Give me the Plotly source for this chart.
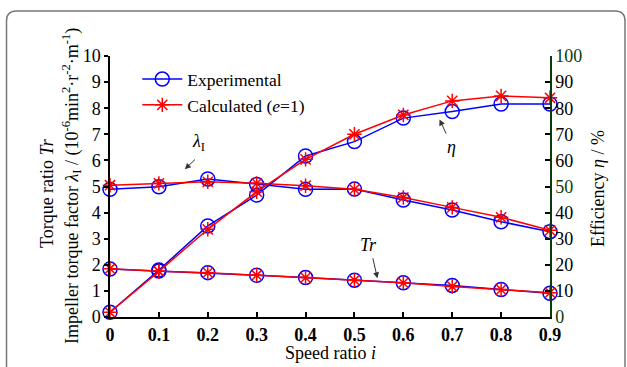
import plotly.graph_objects as go

speed_ratio = [0, 0.1, 0.2, 0.3, 0.4, 0.5, 0.6, 0.7, 0.8, 0.9]

tr_exp = [1.84, 1.76, 1.70, 1.60, 1.51, 1.41, 1.31, 1.21, 1.05, 0.91]
tr_calc = [1.85, 1.75, 1.70, 1.60, 1.51, 1.41, 1.31, 1.17, 1.05, 0.93]

lam_exp = [4.89, 4.99, 5.29, 5.08, 4.89, 4.90, 4.48, 4.10, 3.65, 3.27]
lam_calc = [5.05, 5.12, 5.18, 5.12, 5.03, 4.89, 4.58, 4.20, 3.82, 3.32]

eta_exp = [1.8, 18.0, 34.9, 46.7, 61.7, 67.2, 76.2, 78.7, 81.6, 81.6]
eta_calc = [1.8, 17.5, 33.6, 48.0, 60.4, 70.0, 77.4, 82.8, 84.7, 84.0]

left_ticks = list(range(0, 11))
right_ticks = list(range(0, 101, 10))
x_ticks = [0, 0.1, 0.2, 0.3, 0.4, 0.5, 0.6, 0.7, 0.8, 0.9]

FONT = "Liberation Serif"
BLUE = "#0000ff"
RED = "#ff0000"
GREEN = "#0b3b0b"

fig = go.Figure()

def exp_trace(y, yaxis, show):
    return go.Scatter(x=speed_ratio, y=y, yaxis=yaxis, mode="lines+markers",
                      name="Experimental", showlegend=show, cliponaxis=False,
                      line=dict(color=BLUE, width=1.5),
                      marker=dict(symbol="circle-open", size=14, color=BLUE,
                                  line=dict(width=1.5, color=BLUE)))

def calc_trace(y, yaxis, show):
    return go.Scatter(x=speed_ratio, y=y, yaxis=yaxis, mode="lines+markers",
                      name="Calculated (<i>e</i>=1)", showlegend=show, cliponaxis=False,
                      line=dict(color=RED, width=1.5),
                      marker=dict(symbol="asterisk-open", size=12, color=RED,
                                  line=dict(width=1.5, color=RED)))

fig.add_trace(exp_trace(lam_exp, "y", True))
fig.add_trace(calc_trace(lam_calc, "y", True))
fig.add_trace(exp_trace(tr_exp, "y", False))
fig.add_trace(calc_trace(tr_calc, "y", False))
fig.add_trace(exp_trace(eta_exp, "y2", False))
fig.add_trace(calc_trace(eta_calc, "y2", False))

right_text = [f"<span style='color:{GREEN}'>{v}</span>" if v % 50 == 0 else str(v)
              for v in right_ticks]

fig.update_layout(
    width=627, height=367,
    margin=dict(l=110, r=77, t=56, b=50),
    paper_bgcolor="white", plot_bgcolor="white",
    font=dict(family=FONT, size=18, color="black"),
    xaxis=dict(range=[0, 0.9], tickvals=x_ticks,
               ticktext=[("0" if v == 0 else f"{v:.1f}") for v in x_ticks],
               ticks="inside", ticklen=5, tickwidth=1.5, tickcolor="black",
               showline=True, linecolor="black", linewidth=2,
               showgrid=False, zeroline=False,
               tickfont=dict(family=FONT, size=18, weight="bold")),
    yaxis=dict(range=[0, 10], tickvals=left_ticks,
               ticks="outside", ticklen=4, tickwidth=1.5, tickcolor="black",
               showline=True, linecolor="black", linewidth=1.5,
               showgrid=False, zeroline=False, ticklabelstandoff=0,
               tickfont=dict(family=FONT, size=18)),
    yaxis2=dict(range=[0, 100], tickvals=right_ticks, ticktext=right_text,
                overlaying="y", side="right", anchor="x",
                ticks="inside", ticklen=5, tickwidth=1.5, tickcolor="black",
                showline=True, linecolor=GREEN, linewidth=1.5,
                showgrid=False, zeroline=False, ticklabelstandoff=0,
                tickfont=dict(family=FONT, size=18, color="black")),
    legend=dict(x=0.062, y=0.98, xanchor="left", yanchor="top",
                bgcolor="rgba(0,0,0,0)", borderwidth=0,
                font=dict(family=FONT, size=17.5), tracegroupgap=0,
                itemwidth=40),
)

# Frame with rounded top corners (paper coordinates)
L, R, T, B = -0.2352, 1.1705, 1.1724, -0.203
rx, ry = 0.0227, 0.0383
fig.add_shape(type="path", xref="paper", yref="paper",
              path=f"M {L},{B} L {L},{T-ry} Q {L},{T} {L+rx},{T} L {R-rx},{T} Q {R},{T} {R},{T-ry} L {R},{B}",
              line=dict(color="#777777", width=1.5))

# Axis titles
fig.add_annotation(text="Speed ratio <i>i</i>", xref="paper", yref="paper",
                   x=0.5, y=-0.138, showarrow=False, xanchor="center", yanchor="middle",
                   font=dict(family=FONT, size=18))
fig.add_annotation(text="Torque ratio <i>Tr</i>", xref="paper", yref="paper",
                   x=-0.143, y=0.475, showarrow=False, textangle=-90,
                   xanchor="center", yanchor="middle", font=dict(family=FONT, size=18))
fig.add_annotation(text="Impeller torque factor <i>λ</i><sub>I</sub> / (10<sup>-6</sup>min<sup>2</sup>·r<sup>-2</sup>·m<sup>-1</sup>)",
                   xref="paper", yref="paper",
                   x=-0.0864, y=0.502, showarrow=False, textangle=-90,
                   xanchor="center", yanchor="middle", font=dict(family=FONT, size=18))
fig.add_annotation(text="Efficiency <i>η</i> / %", xref="paper", yref="paper",
                   x=1.109, y=0.494, showarrow=False, textangle=-90,
                   xanchor="center", yanchor="middle", font=dict(family=FONT, size=18))

# Curve labels and arrows
def label(text, x, y):
    fig.add_annotation(text=text, x=x, y=y, xref="x", yref="y", showarrow=False,
                       font=dict(family=FONT, size=18))

def arrow(x0, y0, x1, y1):
    fig.add_annotation(text="", x=x1, y=y1, ax=x0, ay=y0, xref="x", yref="y",
                       axref="x", ayref="y", showarrow=True, arrowhead=2,
                       arrowsize=1.2, arrowwidth=1, arrowcolor="#333333", standoff=0)

label("<i>λ</i><sub>I</sub>", 0.180, 6.67)
arrow(0.177, 6.09, 0.153, 5.66)
label("<i>η</i>", 0.698, 6.51)
arrow(0.689, 6.97, 0.674, 7.57)
label("<i>Tr</i>", 0.528, 2.76)
arrow(0.537, 2.31, 0.547, 1.48)

fig.write_html("out.html", config={"displayModeBar": False},
               post_script="document.body.style.margin='0';document.body.style.overflow='hidden';")
